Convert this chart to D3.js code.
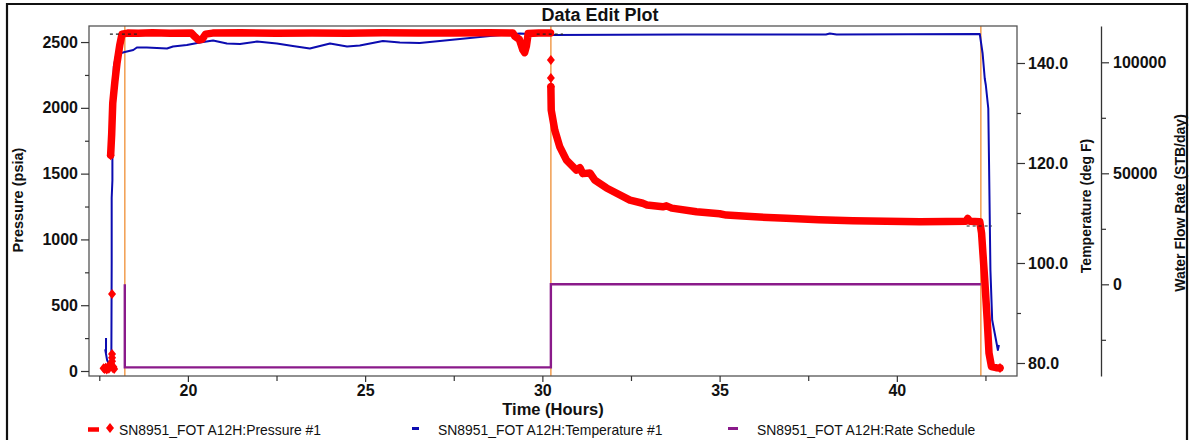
<!DOCTYPE html>
<html><head><meta charset="utf-8">
<script src="https://cdn.jsdelivr.net/npm/d3@7"></script>
<style>
body{margin:0;background:#fff}
svg{display:block}
text{font-family:"Liberation Sans",Arial,Helvetica,sans-serif}
</style>
</head><body>
<svg id="chart" width="1191" height="440"></svg>
<script>
// ---------------- data ----------------
const chartTitle = "Data Edit Plot";
const xTitle = "Time (Hours)";
const pressureTitle = "Pressure (psia)";
const tempTitle = "Temperature (deg F)";
const rateTitle = "Water Flow Rate (STB/day)";

const timeMajorTicks = [20, 25, 30, 35, 40];
const timeMinorTicks = [17.5, 22.5, 27.5, 32.5, 37.5, 42.5];
const pressureMajorTicks = [0, 500, 1000, 1500, 2000, 2500];
const pressureMinorTicks = [250, 750, 1250, 1750, 2250];
const tempMajorTicks = [80, 100, 120, 140];
const tempMinorTicks = [90, 110, 130];
const rateMajorTicks = [0, 50000, 100000];
const rateMinorTicks = [-25000, 25000, 75000];

// Pressure #1 (psia) – continuous trace, null = gap
const pressureTimes = [17.82, 17.85, 17.88, 17.94, 18.00, 18.08, 18.14, 18.30, 18.60, 19.00, 19.50, 20.10, 20.20, 20.30, 20.40, 20.50, 20.70,
  21.5, 22.5, 23.5, 24.5, 25.5, 26.5, 27.5, 28.5, 29.17, 29.22, 29.35, 29.45, 29.50, 29.55, 29.60, 29.90, 30.23,
  30.24,
  30.24, 30.25, 30.35, 30.49, 30.68, 30.96, 31.06, 31.14, 31.34, 31.48, 31.81, 32.47, 32.83, 32.95, 33.40, 33.50, 33.65,
  34.35, 35.00, 35.19, 36.00, 36.88, 37.80, 38.76, 39.70, 40.65, 41.40, 41.95, 42.00, 42.06, 42.20, 42.34,
  42.39, 42.48, 42.55, 42.60, 42.67, 42.80, 42.91];
const pressureValues = [1640, 1800, 2036, 2200, 2340, 2480, 2560, 2568, 2566, 2570, 2567, 2568, 2540, 2515, 2520, 2560, 2568,
  2570, 2566, 2569, 2567, 2570, 2568, 2569, 2570, 2568, 2545, 2520, 2440, 2420, 2470, 2565, 2568, 2568,
  null,
  2160, 1983, 1831, 1704, 1603, 1527, 1545, 1500, 1505, 1450, 1391, 1299, 1275, 1262, 1248, 1255, 1238,
  1210, 1195, 1185, 1172, 1160, 1150, 1142, 1138, 1134, 1136, 1138, 1160, 1138, 1136, 1134,
  1049, 691, 388, 137, 33, 25, 23];

// Pressure #1 isolated samples
const pressurePointTimes = [17.62, 17.65, 17.68, 17.71, 17.74, 17.77, 17.80, 17.83, 17.88, 17.90, 17.92, 17.86, 17.86, 17.86, 17.86, 17.82, 30.24, 30.24, 30.24, 42.91];
const pressurePointValues = [20, 15, 25, 12, 30, 18, 40, 55, 22, 30, 15, 75, 100, 129, 585, 1640, 2363, 2226, 2160, 23];

// Temperature #1 (deg F)
const tempTimes = [17.69, 17.69, 17.67, 17.72, 17.80, 17.84, 17.85, 17.85, 17.87, 17.87, 17.88, 17.91, 17.98, 18.22, 18.46,
  18.56, 18.84, 19.41, 19.58, 19.97, 20.34, 20.71, 21.10, 21.47, 21.95, 22.51, 22.96, 23.44, 24.01, 24.49, 24.85, 25.50, 25.98,
  26.54, 27.39, 28.52, 29.37, 30.27, 34.00, 38.00, 38.11, 38.30, 42.34,
  42.42, 42.48, 42.51, 42.58, 42.60, 42.64, 42.69, 42.76, 42.85, 42.88];
const tempValues = [85.0, 82.0, 82.6, 80.6, 79.4, 79.2, 100.0, 113.0, 116.5, 122.0, 130.0, 139.3, 141.7, 142.2, 142.6,
  143.1, 143.1, 142.9, 143.3, 143.6, 144.1, 144.5, 143.9, 143.8, 144.3, 143.9, 143.4, 142.9, 143.9, 143.3, 143.5, 144.4, 144.1,
  144.0, 144.6, 145.4, 145.9, 145.6, 145.7, 145.7, 145.9, 145.7, 145.8,
  141.9, 136.9, 135.6, 130.9, 120.6, 98.6, 88.6, 86.0, 82.6, 83.6];

// Rate schedule (STB/day)
const rateTimes = [18.22, 18.22, 30.24, 30.24, 42.37];
const rateValues = [0, -37400, -37400, 0, 0];

// Period boundaries (hours)
const eventTimes = [18.22, 30.24, 42.37];

// Data-edit reference segments
const editStartTimes = [17.80, 29.84, 41.97];
const editEndTimes = [18.59, 30.58, 42.68];
const editPressures = [2561, 2561, 1102];

const legendLabels = ["SN8951_FOT A12H:Pressure #1", "SN8951_FOT A12H:Temperature #1", "SN8951_FOT A12H:Rate Schedule"];

// ---------------- layout ----------------
const L = 89, R = 1017, T = 26, B = 376;
const RATE_X = 1101;
const FONT = '"Liberation Sans",Arial,Helvetica,sans-serif';
const C_RED = "#ff0000", C_BLUE = "#0c0cb0", C_PURPLE = "#8a1a8a", C_ORANGE = "#f2a35a";

const svg = d3.select("#chart");

const x = d3.scaleLinear().domain([17.21, 43.39]).range([L, R]);
const yP = d3.scaleLinear().domain([-38, 2622]).range([B, T]);
const yT = d3.scaleLinear().domain([77.4, 147.4]).range([B, T]);
const yR = d3.scaleLinear().domain([-41300, 116350]).range([B, T]);

// outer frame
svg.append("path")
  .attr("d", `M7,441 L7,4 L1187,4 L1187,441`)
  .attr("fill", "none").attr("stroke", "#111").attr("stroke-width", 2.2);

// title
svg.append("text").attr("x", 600).attr("y", 21).attr("text-anchor", "middle")
  .attr("font-size", 18).attr("font-weight", "bold").attr("fill", "#111").text(chartTitle);

// clip
svg.append("defs").append("clipPath").attr("id", "plotclip")
  .append("rect").attr("x", L).attr("y", T).attr("width", R - L).attr("height", B - T);

const plot = svg.append("g").attr("clip-path", "url(#plotclip)");

// orange event lines
plot.selectAll("line.evt").data(eventTimes).join("line").attr("class", "evt")
  .attr("x1", d => x(d)).attr("x2", d => x(d)).attr("y1", T).attr("y2", B)
  .attr("stroke", C_ORANGE).attr("stroke-width", 1.6);

// rate schedule
const rateData = rateTimes.map((t, i) => [t, rateValues[i]]);
plot.append("path").datum(rateData)
  .attr("d", d3.line().x(d => x(d[0])).y(d => yR(d[1])))
  .attr("fill", "none").attr("stroke", C_PURPLE).attr("stroke-width", 2.4);

// temperature
const tempData = tempTimes.map((t, i) => [t, tempValues[i]]);
plot.append("path").datum(tempData)
  .attr("d", d3.line().x(d => x(d[0])).y(d => yT(d[1])))
  .attr("fill", "none").attr("stroke", C_BLUE).attr("stroke-width", 2).attr("stroke-linejoin", "round");

// pressure
const pData = pressureTimes.map((t, i) => [t, pressureValues[i]]);
plot.append("path").datum(pData)
  .attr("d", d3.line().defined(d => d[1] !== null).x(d => x(d[0])).y(d => yP(d[1])))
  .attr("fill", "none").attr("stroke", C_RED).attr("stroke-width", 7.5)
  .attr("stroke-linejoin", "round").attr("stroke-linecap", "round");

const diamond = "M0,-5L4,0L0,5L-4,0Z";
plot.selectAll("path.pm").data(pressurePointTimes.map((t, i) => [t, pressurePointValues[i]])).join("path")
  .attr("class", "pm").attr("d", diamond)
  .attr("transform", d => `translate(${x(d[0])},${yP(d[1])})`)
  .attr("fill", C_RED);

// data-edit dashes
plot.selectAll("line.edit").data(editStartTimes.map((t, i) => [t, editEndTimes[i], editPressures[i]])).join("line")
  .attr("class", "edit")
  .attr("x1", d => x(d[0])).attr("x2", d => x(d[1])).attr("y1", d => yP(d[2])).attr("y2", d => yP(d[2]))
  .attr("stroke", "#222").attr("stroke-width", 1.2).attr("stroke-dasharray", "3,3");

// plot frame
svg.append("rect").attr("x", L).attr("y", T).attr("width", R - L).attr("height", B - T)
  .attr("fill", "none").attr("stroke", "#555").attr("stroke-width", 1.3);

function styleAxis(g, labels) {
  g.select(".domain").remove();
  g.selectAll(".tick line").attr("stroke", "#333").attr("stroke-width", 1.2);
  if (labels) {
    g.selectAll(".tick text").attr("font-family", FONT).attr("font-size", 16)
      .attr("font-weight", "bold").attr("fill", "#111");
  } else {
    g.selectAll(".tick text").remove();
  }
}

// x axis
svg.append("g").attr("transform", `translate(0,${B})`)
  .call(d3.axisBottom(x).tickValues(timeMajorTicks).tickSize(6).tickPadding(3).tickFormat(d3.format("d")))
  .call(g => styleAxis(g, true));
svg.append("g").attr("transform", `translate(0,${B})`)
  .call(d3.axisBottom(x).tickValues(timeMinorTicks).tickSize(5))
  .call(g => styleAxis(g, false));

// pressure axis
svg.append("g").attr("transform", `translate(${L},0)`)
  .call(d3.axisLeft(yP).tickValues(pressureMajorTicks).tickSize(8).tickPadding(3).tickFormat(d3.format("d")))
  .call(g => styleAxis(g, true));
svg.append("g").attr("transform", `translate(${L},0)`)
  .call(d3.axisLeft(yP).tickValues(pressureMinorTicks).tickSize(4))
  .call(g => styleAxis(g, false));

// temperature axis
svg.append("g").attr("transform", `translate(${R},0)`)
  .call(d3.axisRight(yT).tickValues(tempMajorTicks).tickSize(8).tickPadding(3).tickFormat(d3.format(".1f")))
  .call(g => styleAxis(g, true));
svg.append("g").attr("transform", `translate(${R},0)`)
  .call(d3.axisRight(yT).tickValues(tempMinorTicks).tickSize(4))
  .call(g => styleAxis(g, false));

// rate axis
const rateAxisG = svg.append("g").attr("transform", `translate(${RATE_X},0)`)
  .call(d3.axisRight(yR).tickValues(rateMajorTicks).tickSize(8).tickPadding(4).tickSizeOuter(0).tickFormat(d3.format("d")));
rateAxisG.selectAll(".tick line").attr("stroke", "#333").attr("stroke-width", 1.2);
rateAxisG.select(".domain").attr("stroke", "#333").attr("stroke-width", 1.3);
rateAxisG.selectAll(".tick text").attr("font-family", FONT).attr("font-size", 16).attr("font-weight", "bold").attr("fill", "#111");
svg.append("g").attr("transform", `translate(${RATE_X},0)`)
  .call(d3.axisRight(yR).tickValues(rateMinorTicks).tickSize(5))
  .call(g => styleAxis(g, false));

// axis titles
svg.append("text").attr("x", 553).attr("y", 415).attr("text-anchor", "middle")
  .attr("font-size", 16.5).attr("font-weight", "bold").attr("fill", "#111").text(xTitle);
svg.append("text").attr("transform", "translate(23,200) rotate(-90)").attr("text-anchor", "middle")
  .attr("font-size", 14.5).attr("font-weight", "bold").attr("fill", "#111").text(pressureTitle);
svg.append("text").attr("transform", "translate(1091,206) rotate(-90)").attr("text-anchor", "middle")
  .attr("font-size", 14).attr("font-weight", "bold").attr("fill", "#111").text(tempTitle);
svg.append("text").attr("transform", "translate(1185,203) rotate(-90)").attr("text-anchor", "middle")
  .attr("font-size", 14).attr("font-weight", "bold").attr("fill", "#111").text(rateTitle);

// legend
const legendX = [119, 438, 757];
const lg = svg.append("g");
lg.append("line").attr("x1", 88).attr("x2", 99).attr("y1", 429.5).attr("y2", 429.5)
  .attr("stroke", C_RED).attr("stroke-width", 4.5);
lg.append("path").attr("d", diamond).attr("transform", "translate(110,428)").attr("fill", C_RED);
lg.append("line").attr("x1", 412).attr("x2", 419).attr("y1", 428.5).attr("y2", 428.5)
  .attr("stroke", C_BLUE).attr("stroke-width", 3);
lg.append("line").attr("x1", 728).attr("x2", 738).attr("y1", 428.5).attr("y2", 428.5)
  .attr("stroke", C_PURPLE).attr("stroke-width", 3);
lg.selectAll("text").data(legendLabels).join("text")
  .attr("x", (d, i) => legendX[i]).attr("y", 435)
  .attr("font-size", 13.9).attr("fill", "#111").text(d => d);
</script>
</body></html>
